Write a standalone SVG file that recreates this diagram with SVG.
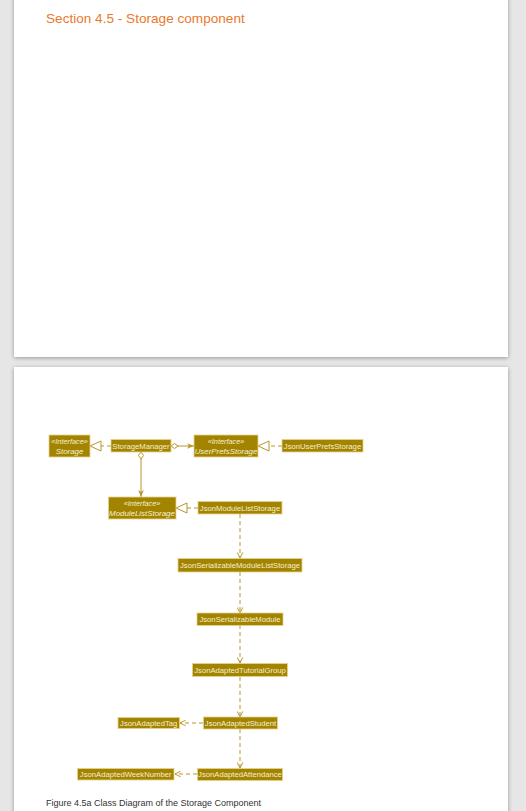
<svg xmlns="http://www.w3.org/2000/svg" width="526" height="811" viewBox="0 0 526 811">
<defs>
<filter id="sh" x="-5%" y="-5%" width="110%" height="110%">
<feGaussianBlur in="SourceAlpha" stdDeviation="2"/>
<feOffset dx="0" dy="1"/>
<feComponentTransfer><feFuncA type="linear" slope="0.35"/></feComponentTransfer>
<feMerge><feMergeNode/><feMergeNode in="SourceGraphic"/></feMerge>
</filter>
<marker id="dep" viewBox="0 0 10 10" refX="9" refY="5" markerWidth="7" markerHeight="7" orient="auto" markerUnits="userSpaceOnUse">
<polyline points="1,1 9,5 1,9" fill="none" stroke="#b8952a" stroke-width="1.4"/>
</marker>
<marker id="nav" viewBox="0 0 10 10" refX="10" refY="5" markerWidth="7" markerHeight="7" orient="auto" markerUnits="userSpaceOnUse">
<path d="M0,1 L10,5 L0,9 L3,5 Z" fill="#b8952a"/>
</marker>
</defs>
<style>
.n rect{fill:#a38400;stroke:#e6d38c;stroke-width:0.8}
.n text{font-family:"Liberation Sans",Arial,sans-serif;font-size:7.7px;fill:#f7efd2;text-anchor:middle}
.n text.i{font-style:italic;font-size:7.9px}
.n text.s{font-size:7.3px}
.c line,.c path,.c polygon{stroke:#b8952a;stroke-width:1;fill:none}
.c .d{stroke-dasharray:4,3}
.c polygon.t{fill:#ffffff}
</style>
<rect width="526" height="811" fill="#e6e6e6"/>
<rect x="14" y="-4" width="494" height="361" fill="#ffffff" filter="url(#sh)"/>
<rect x="14" y="367" width="494" height="452" fill="#ffffff" filter="url(#sh)"/>
<text x="46" y="23" font-family="Liberation Sans,Arial,sans-serif" font-size="13.6" fill="#ea7a2c">Section 4.5 - Storage component</text>

<g class="c" id="connectors">
<line class="d" x1="111" y1="446" x2="101" y2="446"/>
<polygon class="t" points="90,446 101,441 101,451"/>
<line class="d" x1="282" y1="446" x2="269" y2="446"/>
<polygon class="t" points="258,446 269,441 269,451"/>
<line class="d" x1="198" y1="508" x2="187" y2="508"/>
<polygon class="t" points="176,508 187,503 187,513"/>
<polygon class="t" points="171,446 174.5,443.5 178,446 174.5,448.5"/>
<line x1="178" y1="446" x2="194" y2="446" marker-end="url(#nav)"/>
<polygon class="t" points="141,452 143.5,455.5 141,459 138.5,455.5"/>
<line x1="141" y1="459" x2="141" y2="497" marker-end="url(#nav)"/>
<line class="d" x1="240" y1="514" x2="240" y2="558" marker-end="url(#dep)"/>
<line class="d" x1="240" y1="572" x2="240" y2="613" marker-end="url(#dep)"/>
<line class="d" x1="240" y1="625" x2="240" y2="663" marker-end="url(#dep)"/>
<line class="d" x1="240" y1="677" x2="240" y2="717" marker-end="url(#dep)"/>
<line class="d" x1="240" y1="729" x2="240" y2="768" marker-end="url(#dep)"/>
<line class="d" x1="203" y1="723" x2="180" y2="723" marker-end="url(#dep)"/>
<line class="d" x1="197" y1="774" x2="175" y2="774" marker-end="url(#dep)"/>
</g>

<g class="n" id="Storage"><rect x="49" y="435" width="41" height="22"/><text class="i s" x="69.5" y="444">«Interface»</text><text class="i" x="69.5" y="453.5">Storage</text></g>
<g class="n" id="StorageManager"><rect x="111" y="439.5" width="60" height="12.5"/><text x="141" y="448.7">StorageManager</text></g>
<g class="n" id="UserPrefsStorage"><rect x="194" y="435" width="64" height="22"/><text class="i s" x="226" y="444">«Interface»</text><text class="i" x="226" y="453.5">UserPrefsStorage</text></g>
<g class="n" id="JsonUserPrefsStorage"><rect x="282" y="439.5" width="81" height="12.5"/><text x="322.5" y="448.7">JsonUserPrefsStorage</text></g>
<g class="n" id="ModuleListStorage"><rect x="108.5" y="497" width="67.5" height="22"/><text class="i s" x="142" y="506">«Interface»</text><text class="i" x="142" y="515.5">ModuleListStorage</text></g>
<g class="n" id="JsonModuleListStorage"><rect x="198" y="501.5" width="84" height="12.5"/><text x="240" y="510.7">JsonModuleListStorage</text></g>
<g class="n" id="JsonSerializableModuleListStorage"><rect x="178" y="558.5" width="124" height="13.5"/><text x="240" y="568.2">JsonSerializableModuleListStorage</text></g>
<g class="n" id="JsonSerializableModule"><rect x="197" y="613" width="86" height="12.5"/><text x="240" y="622.2">JsonSerializableModule</text></g>
<g class="n" id="JsonAdaptedTutorialGroup"><rect x="192.5" y="663.5" width="95" height="13"/><text x="240" y="672.7">JsonAdaptedTutorialGroup</text></g>
<g class="n" id="JsonAdaptedStudent"><rect x="203.5" y="717" width="74" height="12"/><text x="240.5" y="725.9">JsonAdaptedStudent</text></g>
<g class="n" id="JsonAdaptedTag"><rect x="118" y="717.5" width="61.5" height="11"/><text x="148.7" y="725.9">JsonAdaptedTag</text></g>
<g class="n" id="JsonAdaptedAttendance"><rect x="197.5" y="768.5" width="85" height="12"/><text x="240" y="777.4">JsonAdaptedAttendance</text></g>
<g class="n" id="JsonAdaptedWeekNumber"><rect x="77.5" y="768.5" width="96.5" height="11.5"/><text x="125.7" y="777.4">JsonAdaptedWeekNumber</text></g>

<text x="46" y="806" font-family="Liberation Sans,Arial,sans-serif" font-size="9" fill="#333333">Figure 4.5a Class Diagram of the Storage Component</text>
</svg>
